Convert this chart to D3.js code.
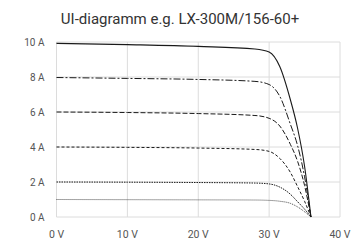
<!DOCTYPE html>
<html>
<head>
<meta charset="utf-8">
<script src="https://cdn.jsdelivr.net/npm/d3@7"></script>
<style>
  body { margin: 0; background: #fff; }
  svg { display: block; }
  text { font-family: "Liberation Sans Narrow", Roboto, "DejaVu Sans", sans-serif; }
</style>
</head>
<body>
<svg id="chart"></svg>
<script>
// Voltage sample points shared by all curves
const volts = [0, 10, 20, 28, 30, 31.5, 33, 34, 35, 35.9];

// Current (A) per irradiance curve
const curve10 = [9.92, 9.85, 9.75, 9.6, 9.43, 8.6, 6.7, 5.1, 2.9, 0];
const curve8  = [7.97, 7.92, 7.86, 7.75, 7.57, 6.9, 5.3, 4.1, 2.3, 0];
const curve6  = [6.0, 5.97, 5.91, 5.8, 5.64, 5.2, 4.15, 3.2, 1.8, 0];
const curve4  = [4.0, 3.98, 3.94, 3.86, 3.75, 3.35, 2.55, 1.75, 0.9, 0];
const curve2  = [2.0, 1.99, 1.97, 1.94, 1.89, 1.71, 1.3, 0.88, 0.45, 0];
const curve1  = [1.0, 0.99, 0.98, 0.97, 0.95, 0.9, 0.78, 0.58, 0.3, 0];

const xTicks = [0, 10, 20, 30, 40];
const yTicks = [0, 2, 4, 6, 8, 10];
const title = "UI-diagramm e.g. LX-300M/156-60+";

const width = 352;
const height = 240;
const margin = { top: 42, right: 12, bottom: 23, left: 56.5 };

const svg = d3.select("#chart")
    .attr("width", width)
    .attr("height", height);

const x = d3.scaleLinear().domain([0, 40]).range([margin.left, width - margin.right]);
const y = d3.scaleLinear().domain([0, 10]).range([height - margin.bottom, margin.top]);

// grid
svg.append("g")
    .selectAll("line.v")
    .data(xTicks)
    .join("line")
    .attr("x1", d => x(d)).attr("x2", d => x(d))
    .attr("y1", y(0)).attr("y2", y(10))
    .attr("stroke", "#dcdcdc")
    .attr("stroke-width", 1);

svg.append("g")
    .selectAll("line.h")
    .data(yTicks)
    .join("line")
    .attr("x1", x(0)).attr("x2", x(40))
    .attr("y1", d => y(d)).attr("y2", d => y(d))
    .attr("stroke", "#dcdcdc")
    .attr("stroke-width", 1);

// axis labels
svg.append("g")
    .selectAll("text")
    .data(yTicks)
    .join("text")
    .attr("x", x(0) - 12)
    .attr("y", d => y(d))
    .attr("dy", "0.35em")
    .attr("text-anchor", "end")
    .attr("font-size", "10px")
    .attr("fill", "#555")
    .text(d => d + " A");

svg.append("g")
    .selectAll("text")
    .data(xTicks)
    .join("text")
    .attr("x", d => x(d))
    .attr("y", 238)
    .attr("text-anchor", "middle")
    .attr("font-size", "10.5px")
    .attr("fill", "#555")
    .text(d => d + " V");

// title
svg.append("text")
    .attr("x", 180)
    .attr("y", 24)
    .attr("text-anchor", "middle")
    .attr("font-size", "15px")
    .attr("fill", "#333")
    .text(title);

// curves
const series = [
    { values: curve10, dash: null, w: 1.1 },
    { values: curve8, dash: "7,2,2,2", w: 1 },
    { values: curve6, dash: "5,2", w: 1 },
    { values: curve4, dash: "3,2", w: 1 },
    { values: curve2, dash: "1.5,1", w: 1 },
    { values: curve1, dash: "1,1", w: 0.8 }
];

const line = d3.line()
    .x((d, i) => x(volts[i]))
    .y(d => y(d))
    .curve(d3.curveMonotoneX);

svg.append("g")
    .selectAll("path")
    .data(series)
    .join("path")
    .attr("d", d => line(d.values))
    .attr("fill", "none")
    .attr("stroke", "#1a1a1a")
    .attr("stroke-width", d => d.w)
    .attr("stroke-dasharray", d => d.dash);
</script>
</body>
</html>
